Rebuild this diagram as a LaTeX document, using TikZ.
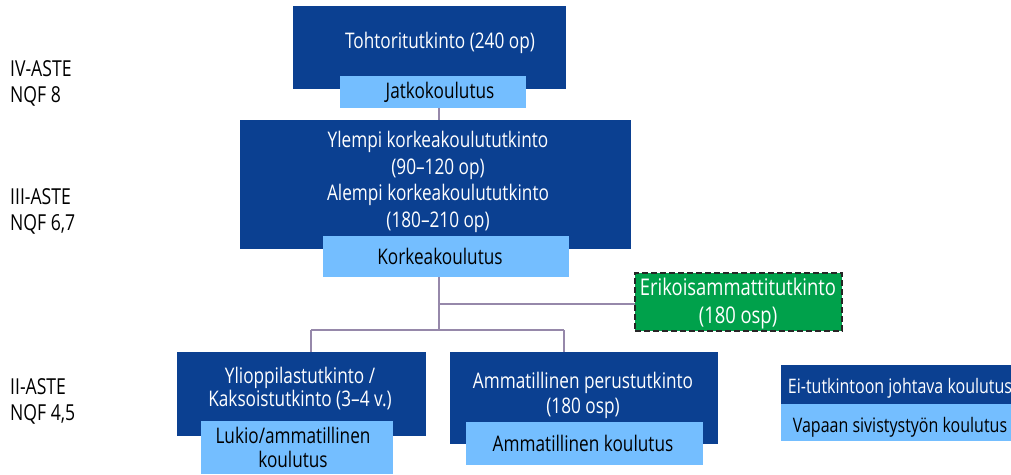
\documentclass[tikz,border=0pt]{standalone}
\usepackage{fontspec}
\setmainfont{Open Sans}[FakeStretch=0.8]
\definecolor{dkblue}{RGB}{11,64,145}
\definecolor{ltblue}{RGB}{116,190,255}
\definecolor{grn}{RGB}{0,161,75}
\definecolor{connc}{RGB}{150,136,170}
\begin{document}
\begin{tikzpicture}[x=1pt,y=-1pt,
  dbox/.style={fill=dkblue, draw=none, inner sep=0pt, outer sep=0pt, anchor=north west},
  lbox/.style={fill=ltblue, draw=none, inner sep=0pt, outer sep=0pt, anchor=north west},
  gbox/.style={fill=grn, draw=black!85, line width=2pt, dash pattern=on 6pt off 3pt, inner sep=0pt, outer sep=0pt, anchor=north west},
  wtxt/.style={text=white, inner sep=0pt, anchor=base, align=center, font=\fontsize{21.5}{26.5}\selectfont},
  btxt/.style={text=black, inner sep=0pt, anchor=base, align=center, font=\fontsize{21.5}{26}\selectfont},
  lvl/.style={text=black, inner sep=0pt, anchor=base west, align=left, font=\fontsize{22}{25.5}\selectfont},
  connline/.style={draw=connc, line width=1.5pt}]
\path[use as bounding box] (0,0) rectangle (1011,474);

% level labels (anchored at last baseline)
\node[lvl] (l4) at (10,102) {IV-ASTE\\NQF 8};
\node[lvl] (l3) at (10,230) {III-ASTE\\NQF 6,7};
\node[lvl] (l2) at (10,420) {II-ASTE\\NQF 4,5};

% coordinates for connectors
\coordinate (trunk) at (439,0);
\coordinate (split) at (439,330);
\coordinate (branchE) at (439,304);
\coordinate (lx) at (311,0);
\coordinate (rx) at (564,0);

% boxes
\node[dbox, minimum width=273pt, minimum height=83pt] (toht) at (293,6) {};
\node[dbox, minimum width=391pt, minimum height=129pt] (ylempi) at (240,120) {};
\node[gbox, minimum width=207pt, minimum height=58pt] (erik) at (634.5,272.5) {};
\node[dbox, minimum width=249pt, minimum height=84pt] (yliop) at (177,352) {};
\node[dbox, minimum width=268pt, minimum height=92pt] (ammat) at (450,352) {};
\node[dbox, minimum width=230pt, minimum height=39pt] (ei) at (781,365) {};

% connectors
\draw[connline] (split) -- (branchE);
\draw[connline] (lx |- split) -- (rx |- split);
\draw[connline] (yliop.north -| lx) -- (lx |- split);
\draw[connline] (ammat.north -| rx) -- (rx |- split);
\draw[connline] (branchE) -- (erik.west |- branchE);

\node[lbox, minimum width=186pt, minimum height=32pt] (jatko) at (340,76) {};
\node[lbox, minimum width=246pt, minimum height=41pt] (korkea) at (323,236) {};
\node[lbox, minimum width=192pt, minimum height=53pt] (lukio) at (201,421) {};
\node[lbox, minimum width=237pt, minimum height=43pt] (ammk) at (466,422) {};
\node[lbox, minimum width=230pt, minimum height=37pt] (vapaa) at (781,404) {};

\draw[connline] (jatko.south -| trunk) -- (ylempi.north -| trunk);
\draw[connline] (korkea.south -| trunk) -- (branchE);

% texts (multi-line nodes are anchored at the baseline of their last line)
\node[wtxt] (tohtT) at (440,48) {Tohtoritutkinto (240 op)};
\node[btxt] (jatkoT) at (440,98) {Jatkokoulutus};
\node[wtxt] (ylempiT) at (438,227) {Ylempi korkeakoulututkinto\\(90–120 op)\\Alempi korkeakoulututkinto\\(180–210 op)};
\node[btxt] (korkeaT) at (440,264) {Korkeakoulutus};
\node[wtxt, font=\fontsize{23}{28}\selectfont] (erikT) at (738,323) {Erikoisammattitutkinto\\(180 osp)};
\node[wtxt, font=\fontsize{21.5}{21}\selectfont] (yliopT) at (300,406) {Ylioppilastutkinto /\\Kaksoistutkinto (3–4 v.)};
\node[btxt, font=\fontsize{21.5}{24}\selectfont] (lukioT) at (293,467) {Lukio/ammatillinen\\koulutus};
\node[wtxt, font=\fontsize{21.5}{25}\selectfont] (ammatT) at (583,413) {Ammatillinen perustutkinto\\(180 osp)};
\node[btxt] (ammkT) at (583,451) {Ammatillinen koulutus};
\node[wtxt, font=\fontsize{20}{24}\selectfont] (eiT) at (900,393) {Ei-tutkintoon johtava koulutus};
\node[btxt, font=\fontsize{20}{24}\selectfont] (vapaaT) at (900,432) {Vapaan sivistystyön koulutus};
\end{tikzpicture}
\end{document}
